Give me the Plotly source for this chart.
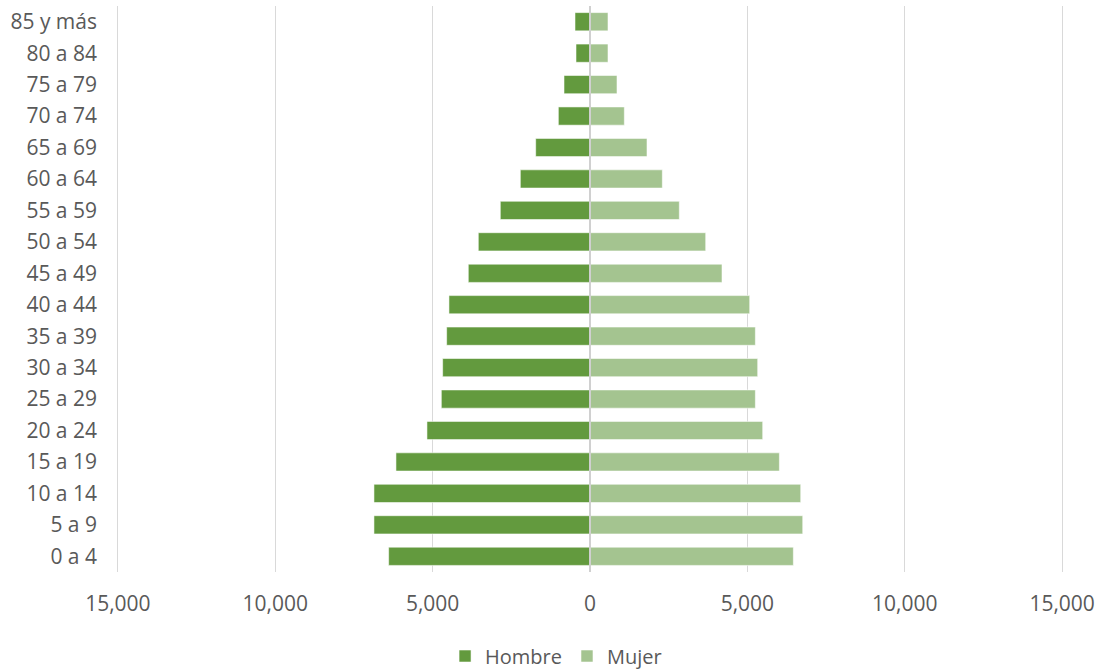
import plotly.graph_objects as go

grupos = ["0 a 4", "5 a 9", "10 a 14", "15 a 19", "20 a 24", "25 a 29", "30 a 34",
          "35 a 39", "40 a 44", "45 a 49", "50 a 54", "55 a 59", "60 a 64", "65 a 69",
          "70 a 74", "75 a 79", "80 a 84", "85 y más"]
hombre = [6398, 6864, 6864, 6165, 5180, 4724, 4682, 4555, 4481, 3867, 3549, 2850,
          2214, 1726, 1006, 826, 445, 477]
mujer = [6461, 6759, 6695, 6017, 5487, 5254, 5328, 5254, 5074, 4194, 3676, 2838,
         2298, 1811, 1091, 858, 572, 572]
tick_vals = [-15000, -10000, -5000, 0, 5000, 10000, 15000]
tick_text = ["15,000", "10,000", "5,000", "0", "5,000", "10,000", "15,000"]

color_h = "#639A3E"
color_m = "#A4C490"
txt = "#595959"
font_fam = "Open Sans, Liberation Sans, sans-serif"

fig = go.Figure()
fig.add_trace(go.Bar(
    y=grupos, x=[-v for v in hombre], name="Hombre", orientation="h",
    marker=dict(color=color_h, line=dict(color="rgba(255,255,255,0.55)", width=1)),
    customdata=hombre, hovertemplate="%{y}: %{customdata:,}<extra>Hombre</extra>",
))
fig.add_trace(go.Bar(
    y=grupos, x=mujer, name="Mujer", orientation="h",
    marker=dict(color=color_m, line=dict(color="rgba(255,255,255,0.55)", width=1)),
    hovertemplate="%{y}: %{x:,}<extra>Mujer</extra>",
))

fig.update_layout(
    width=1100, height=669,
    barmode="overlay", bargap=0.42,
    plot_bgcolor="white", paper_bgcolor="white",
    margin=dict(l=116, r=36, t=6, b=97, autoexpand=False),
    font=dict(family=font_fam, size=21, color=txt),
    showlegend=True,
    legend=dict(orientation="h", xref="container", x=0.5055, xanchor="center",
                yref="container", y=0.0194, yanchor="middle",
                font=dict(size=20, color=txt), itemwidth=30, traceorder="normal"),
)
fig.update_xaxes(
    range=[-15060, 15060], tickvals=tick_vals, ticktext=tick_text,
    showgrid=True, gridcolor="#D9D9D9", gridwidth=1,
    zeroline=False, showline=False, ticks="", ticklabelstandoff=17,
    tickfont=dict(size=21, color=txt), automargin=False,
)
fig.update_yaxes(
    type="category", showgrid=False, showline=False, zeroline=False,
    ticks="", ticklabelstandoff=18, tickfont=dict(size=21, color=txt),
    automargin=False,
)
# category axis line at zero
fig.add_shape(type="line", xref="x", yref="paper", x0=0, x1=0, y0=0, y1=1,
              line=dict(color="#D0D0D0", width=2), layer="above")

fig.write_html("out.html", config={"displayModeBar": False},
               post_script="document.body.style.margin='0';")
